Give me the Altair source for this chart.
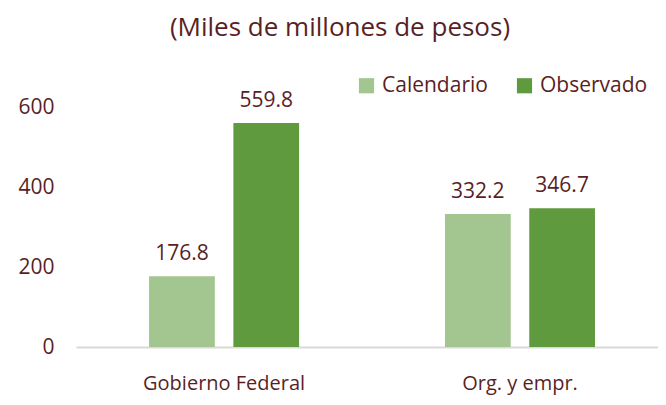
import altair as alt
import pandas as pd

categories = ["Gobierno Federal", "Gobierno Federal", "Org. y empr.", "Org. y empr."]
series = ["Calendario", "Observado", "Calendario", "Observado"]
values = [176.8, 559.8, 332.2, 346.7]
labels = ["176.8", "559.8", "332.2", "346.7"]

df = pd.DataFrame({"cat": categories, "serie": series, "valor": values, "etiqueta": labels})

TXT = "#5a1f24"
FONT = "Open Sans"
cat_order = ["Gobierno Federal", "Org. y empr."]
ser_order = ["Calendario", "Observado"]

x = alt.X("cat:N", sort=cat_order, title=None,
          scale=alt.Scale(paddingInner=0.493, paddingOuter=0.23, align=0.537),
          axis=alt.Axis(labelAngle=0, ticks=False, domainColor="#d9d9d9", domainWidth=2,
                        labelPadding=26, labelFontSize=20, labelColor=TXT, labelFont=FONT))
xo = alt.XOffset("serie:N", sort=ser_order, scale=alt.Scale(paddingInner=0.22, paddingOuter=0))
y = alt.Y("valor:Q", title=None,
          scale=alt.Scale(domain=[0, 700]),
          axis=alt.Axis(values=[0, 200, 400, 600], grid=False, domain=False, ticks=False,
                        labelPadding=22, labelFontSize=21, labelColor=TXT, labelFont=FONT))

bars = alt.Chart(df).mark_bar().encode(
    x=x, xOffset=xo, y=y,
    color=alt.Color("serie:N", sort=ser_order,
                    scale=alt.Scale(domain=ser_order, range=["#a3c58f", "#5f9a3e"]),
                    legend=alt.Legend(title=None, orient="none", legendX=280, legendY=8,
                                      direction="horizontal", symbolType="square",
                                      symbolSize=230, symbolStrokeWidth=0,
                                      labelFontSize=21, labelColor=TXT, labelFont=FONT,
                                      columnPadding=26, labelOffset=5)),
)

text = alt.Chart(df).mark_text(dy=-22, fontSize=21, color=TXT, font=FONT).encode(
    x=alt.X("cat:N", sort=cat_order), xOffset=alt.XOffset("serie:N", sort=ser_order),
    y="valor:Q", text="etiqueta:N",
)

chart = (bars + text).properties(
    width=582, height=280,
    padding={"left": 68, "top": 59, "right": 0, "bottom": 50},
    autosize=alt.AutoSizeParams(type="none"),
    title=alt.TitleParams("(Miles de millones de pesos)", fontSize=26, font=FONT,
                          color=TXT, fontWeight="normal", anchor="middle", dx=-27, offset=26),
).configure_view(stroke=None)

chart.save("out.html", embed_options={"renderer": "svg", "actions": False})
